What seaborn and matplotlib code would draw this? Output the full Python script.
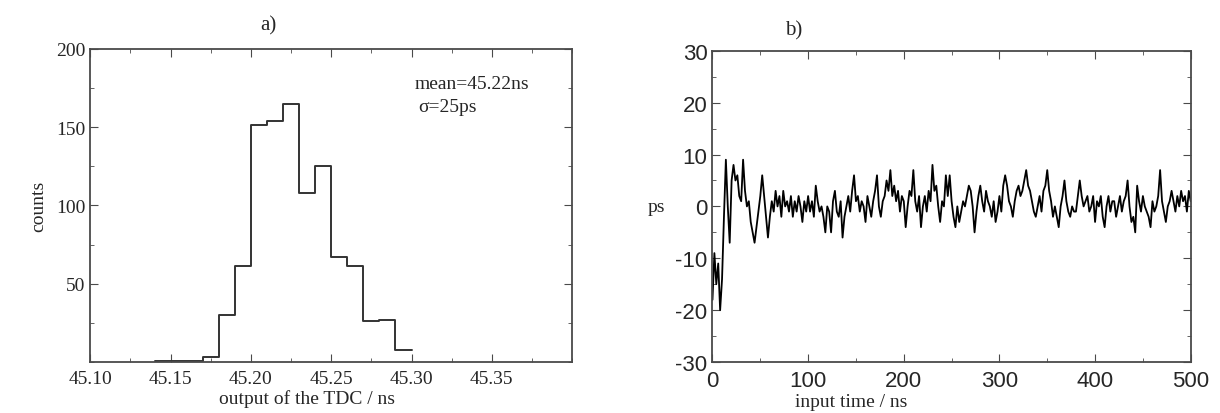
import numpy as np
import pandas as pd
import matplotlib
matplotlib.use("Agg")
import matplotlib.pyplot as plt
import seaborn as sns
from matplotlib.ticker import MultipleLocator, FixedLocator

# panel a) - TDC output histogram (bin width 10 ps)
bin_edges = [45.14, 45.15, 45.16, 45.17, 45.18, 45.19, 45.20, 45.21, 45.22,
             45.23, 45.24, 45.25, 45.26, 45.27, 45.28, 45.29, 45.30]
counts = [1, 1, 1, 3, 30, 61, 151, 154, 165, 108, 125, 67, 61, 26, 27, 8]
hist_xticks = [45.10, 45.15, 45.20, 45.25, 45.30, 45.35]
hist_yticks = [50, 100, 150, 200]

# panel b) - deviation vs input time, sampled every 2 ns
time_step = 2
dev_ps = [
    -18, -9, -15, -11, -20, -14, -2, 9, 0, -7,      # 0-18
    5, 8, 5, 6, 2, 1, 9, 3, 0, 1,                   # 20-38
    -3, -5, -7, -4, -1, 2, 6, 2, -2, -6,            # 40-58
    -2, 1, -1, 3, 0, 2, -2, 3, 0, 1,                # 60-78
    -1, 2, -2, 1, -1, 2, 0, -3, 1, -1,              # 80-98
    2, -1, 1, -2, 4, 1, -1, 0, -2, -5,              # 100-118
    0, -1, -5, 1, 3, -1, -2, 1, -6, -2,             # 120-138
    0, 2, -1, 3, 6, 1, 2, -1, 1, 0,                 # 140-158
    -3, 2, 0, -2, 1, 3, 6, 0, -2, 1,                # 160-178
    2, 5, 3, 7, 2, 4, 1, 3, -1, 2,                  # 180-198
    1, -4, 0, 3, 2, 7, 1, -1, 2, -4,                # 200-218
    0, 2, -1, 3, 1, 8, 3, 4, 0, -3,                 # 220-238
    1, 0, 6, 2, 6, 1, -2, -4, 0, -3,                # 240-258
    -1, 1, 0, 2, 4, 3, 0, -5, -1, 2,                # 260-278
    4, 1, -1, 3, 1, 0, -2, 1, -3, -1,               # 280-298
    2, -1, 4, 6, 4, 1, 0, -2, 1, 3,                 # 300-318
    4, 2, 3, 5, 7, 4, 3, 1, -1, -2,                 # 320-338
    0, 2, -1, 3, 4, 7, 3, 1, -2, 0,                 # 340-358
    -2, -4, 0, 2, 5, 1, -1, -2, 0, -1,              # 360-378
    -1, 2, 5, 2, 0, 1, 2, -1, 0, 2,                 # 380-398
    -3, 1, 0, 2, -2, -4, 0, 2, -1, 1,               # 400-418
    1, -2, 0, 2, -1, 1, 2, 5, 0, -3,                # 420-438
    -2, -5, 4, 1, -1, 2, 0, -1, -2, -4,             # 440-458
    1, -1, 0, 2, 7, 1, -1, -3, 0, 1,                # 460-478
    3, 1, -1, 2, 0, 3, 1, 2, -1, 3,                 # 480-498
    1,                                              # 500
]
time_ns = np.arange(len(dev_ps)) * time_step

sns.set_style("ticks")
plt.rcParams["font.family"] = ["Liberation Serif", "DejaVu Serif"]
plt.rcParams["axes.unicode_minus"] = False

fig = plt.figure(figsize=(12.2, 4.14), dpi=100)
ax1 = fig.add_axes([0.074, 0.123, 0.395, 0.757])
ax2 = fig.add_axes([0.584, 0.123, 0.392, 0.752])

edge = "#4a4a4a"

# ---- a) histogram
centers = [(bin_edges[i] + bin_edges[i + 1]) / 2 for i in range(len(counts))]
hist_df = pd.DataFrame({"tdc": centers, "n": counts})
sns.histplot(data=hist_df, x="tdc", weights="n", bins=bin_edges,
             element="step", fill=False, color="#333333", linewidth=1.4, ax=ax1)
ax1.set_xlim(45.10, 45.40)
ax1.set_ylim(0, 200)
ax1.xaxis.set_major_locator(FixedLocator(hist_xticks))
ax1.xaxis.set_minor_locator(MultipleLocator(0.025))
ax1.yaxis.set_major_locator(FixedLocator(hist_yticks))
ax1.yaxis.set_minor_locator(MultipleLocator(25))
ax1.set_xticklabels([f"{v:.2f}" for v in hist_xticks])
ax1.set_xlabel("output of the TDC / ns", fontsize=14, labelpad=1, x=0.45)
ax1.set_ylabel("counts", fontsize=14, labelpad=6)
ax1.set_title("a)", fontsize=15, x=0.37, pad=14)
ax1.text(0.674, 0.89, "mean=45.22ns", transform=ax1.transAxes,
         fontsize=14, va="center")
ax1.text(0.68, 0.815, "σ=25ps", transform=ax1.transAxes,
         fontsize=14, va="center")
ax1.tick_params(axis="both", which="both", direction="in", top=True,
                right=True, labelsize=14, color=edge)
ax1.tick_params(which="major", length=6)
ax1.tick_params(axis="x", which="major", pad=6)
ax1.tick_params(which="minor", length=3)

# ---- b) deviation trace
trace_df = pd.DataFrame({"t": time_ns, "ps": dev_ps})
sns.lineplot(data=trace_df, x="t", y="ps", color="black", linewidth=1.3, ax=ax2)
ax2.set_xlim(0, 500)
ax2.set_ylim(-30, 30)
ax2.xaxis.set_major_locator(MultipleLocator(100))
ax2.xaxis.set_minor_locator(MultipleLocator(50))
ax2.yaxis.set_major_locator(MultipleLocator(10))
ax2.yaxis.set_minor_locator(MultipleLocator(5))
ax2.tick_params(axis="both", which="both", direction="in", top=True,
                right=True, color=edge)
ax2.tick_params(which="major", length=6)
ax2.tick_params(axis="x", which="major", pad=6)
ax2.tick_params(which="minor", length=3)
for lab in ax2.get_xticklabels() + ax2.get_yticklabels():
    lab.set_family(["Liberation Sans", "DejaVu Sans"])
    lab.set_fontsize(16)
ax2.set_xlabel("input time / ns", fontsize=14, labelpad=1, x=0.29)
ax2.set_ylabel("ps", fontsize=14, rotation=0, va="center", labelpad=14)
ax2.set_title("b)", fontsize=15, x=0.17, pad=12)

for ax in (ax1, ax2):
    for s in ax.spines.values():
        s.set_color(edge)
        s.set_linewidth(1.3)
        s.set_visible(True)

plt.savefig("out.png", dpi=100)
